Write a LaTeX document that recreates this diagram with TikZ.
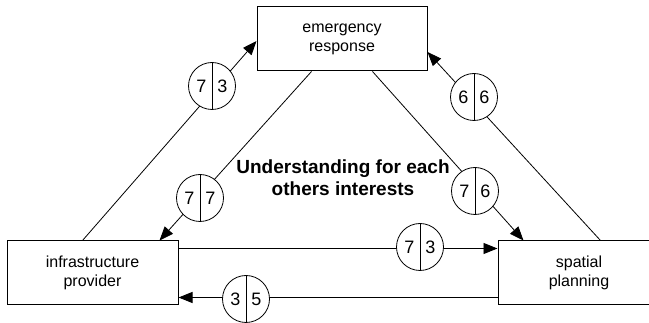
\documentclass[tikz,border=0pt]{standalone}
\usepackage{fontspec}
\setmainfont{Liberation Sans}
\usetikzlibrary{positioning,arrows.meta}

\tikzset{
  unitbox/.style={draw,line width=1pt,minimum height=64pt,align=center,
                  font=\fontsize{16}{19}\selectfont,inner sep=0pt},
  rating/.style={circle,draw,fill=white,line width=0.8pt,minimum size=47pt,
                 inner sep=0pt,font=\fontsize{18}{20}\selectfont,
                 path picture={\draw[line width=0.8pt]
                   (path picture bounding box.north) -- (path picture bounding box.south);}},
  flow/.style={line width=0.8pt,-{Triangle[length=14pt,width=11pt]}},
  link/.style={line width=0.8pt}
}

\begin{document}
\begin{tikzpicture}[x=1pt,y=-1pt]
        \clip (0,0) rectangle (649,323);

        % the three parties
        \node[unitbox,minimum width=170pt] (emerg) at (342,39) {emergency\\response};
        \node[unitbox,minimum width=171pt] (infra) at (92.5,273) {infrastructure\\provider};
        \node[unitbox,minimum width=162pt] (spatial) at (579,273) {spatial\\planning};

        \node[font=\fontsize{19}{22}\selectfont\bfseries,align=center] (title)
          at (343,178) {Understanding for each\\others interests};

        % relations between the parties
        \draw[flow] ([xshift=76pt]infra.north west) -- ([yshift=-2pt]emerg.west);
        \draw[flow] ([xshift=55pt]emerg.south west) -- ([xshift=-19pt]infra.north east);
        \draw[flow] ([xshift=-55pt]emerg.south east) -- ([xshift=26pt]spatial.north west);
        \draw[flow] ([xshift=103pt]spatial.north west) -- ([yshift=-13pt]emerg.east);
        \draw[flow] ([yshift=-8pt]infra.north east) -- ([yshift=-8pt]spatial.north west);
        \draw[flow] ([yshift=8pt]spatial.south west) -- ([yshift=8pt]infra.south east);

        % scores on each relation
        \node[rating] (ie) at (212,86) {7\hspace{11pt}3};
        \node[rating] (se) at (474,97) {6\hspace{11pt}6};
        \node[rating] (ei) at (200,198) {7\hspace{11pt}7};
        \node[rating] (es) at (475,191) {7\hspace{11pt}6};
        \node[rating] (is) at (420,247) {7\hspace{11pt}3};
        \node[rating] (si) at (246,299) {3\hspace{11pt}5};
      \end{tikzpicture}
\end{document}
